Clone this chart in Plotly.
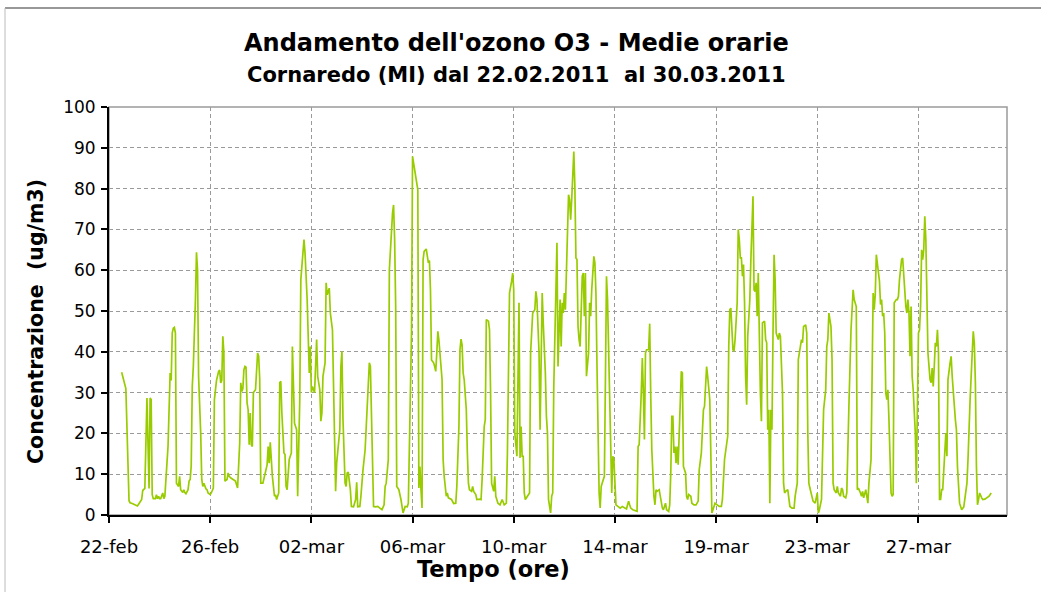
import plotly.graph_objects as go

# Hourly O3 readings (hour index from the start of the series, ug/m3)
ore = [
    12, 14, 15, 16, 19, 20, 22, 24, 27, 29, 31, 32, 34, 36, 38, 39, 40, 41, 42, 44,
    45, 46, 47, 48, 49, 51, 52, 53, 54, 56, 58, 59, 60, 61, 62, 63, 64, 66, 67, 68,
    70, 71, 72, 73, 75, 76, 77, 78, 79, 80, 82, 83, 84, 85, 87, 88, 89, 90, 92, 93,
    94, 96, 97, 99,
    100, 102, 104, 105, 106, 107, 108, 109, 110, 112, 113, 114, 116, 118, 120, 122, 123, 124, 125, 126,
    127, 128, 129, 130, 131, 132, 133, 134, 135, 136, 137, 139, 141, 142, 143, 144, 146, 148, 149, 150,
    151, 152, 153, 154, 155, 157, 158, 159, 161, 162, 163, 164, 166, 167, 168, 169, 170, 171, 173, 174,
    176, 178, 179, 181, 182, 183, 184, 185, 186, 188, 190, 191, 192, 193, 195, 197,
    198, 200, 201, 202, 203, 205, 206, 207, 209, 210, 212, 213, 215, 216, 219, 220, 221, 222, 224, 225,
    226, 227, 229, 230, 232, 234, 235, 236, 238, 239, 240, 241, 243, 245, 246, 247, 248, 249, 250, 251,
    253, 255, 257, 259, 261, 262, 263, 265, 266, 267, 268, 269, 270, 271, 272, 273, 274, 275, 277, 278,
    279, 281, 283, 284,
    285, 287, 288, 289, 291, 292, 293, 294, 295, 296, 297, 298, 299, 301, 302, 303, 304, 305, 306, 308,
    309, 310, 311, 312, 313, 315, 316, 317, 318, 320, 321, 322, 325, 327, 329, 330, 332, 333, 334, 335,
    336, 337, 339, 340, 341, 342, 344, 345, 346, 348, 349, 352, 353, 354, 356, 357, 358, 360, 361, 362,
    363, 365, 366, 367, 369, 371, 373, 375, 377, 378, 379, 380, 382, 383, 384, 385, 387,
    388, 389, 390, 391, 392, 393, 394, 395, 397, 399, 400, 402, 404, 405, 406, 407, 408, 409, 410, 411,
    412, 414, 415, 416, 417, 419, 420, 421, 422, 423, 424, 425, 426, 427, 428, 429, 430, 431, 432, 433,
    435, 436, 437, 438, 439, 440, 441, 442, 443, 444, 445, 446, 447, 449, 450, 451, 452, 453, 454, 455,
    456, 457, 458, 459, 460, 461, 462, 463, 465, 466, 467, 469, 470, 471, 472, 473, 474, 475, 477, 478,
    479, 481,
    483, 485, 487, 489, 491, 492, 493, 494, 495, 497, 499, 501, 502, 503, 505, 506, 507, 508, 509, 510,
    512, 513, 514, 515, 517, 518, 519, 520, 522, 523, 524, 525, 526, 528, 529, 531, 532, 533, 534, 535,
    536, 537, 538, 539, 540, 541, 542, 543, 544, 545, 547, 548, 549, 550, 552, 553, 555, 557, 559, 560,
    562, 563, 564, 565, 567, 568, 569, 570, 571, 572,
    574, 575, 577, 579, 581, 582, 584, 586, 587, 588, 589, 590, 591, 592, 593, 594, 596, 597, 598, 599,
    600, 601, 602, 603, 604, 605, 606, 608, 609, 610, 611, 612, 613, 614, 615, 616, 617, 618, 619, 620,
    622, 623, 624, 625, 626, 627, 628, 629, 630, 631, 632, 633, 634, 635, 636, 637, 639, 640, 641, 642,
    644, 645, 646, 648, 650, 651, 653, 654, 655, 656, 657, 658, 659, 661, 662, 663, 664, 665, 666, 668,
    670, 671, 672, 673, 674, 676, 677, 678, 680, 681, 682, 683, 685, 686, 687, 688, 690, 691, 692, 694,
    695, 696, 697, 699, 700, 701, 702, 704, 705, 706, 707, 709, 710, 711, 713, 714, 715, 716, 718, 719,
    720, 721, 723, 724, 725, 726, 727, 728, 730, 731, 732, 733, 734, 735, 736, 737, 738, 739, 740, 742,
    743, 744, 745, 747, 748, 749, 750, 752, 753, 754, 756, 757, 758, 759, 760, 761, 762, 763, 764, 765,
    766,
    767, 768, 769, 770, 771, 772, 773, 774, 775, 776, 777, 779, 780, 781, 782, 783, 784, 785, 786, 787,
    788, 789, 790, 791, 793, 794, 795, 796, 798, 799, 800, 802, 803, 804, 805, 807, 808, 809, 811, 812,
    814, 815, 816, 817, 819, 820, 821, 822, 823, 824, 825, 826, 828, 829, 831, 833, 835, 837,
]

o3 = [
    35, 33, 32, 31, 3.5, 3, 2.8, 2.6, 2.2, 3, 3.8, 6, 6.5, 28.7, 6.5, 28.7, 28.3, 5, 4, 4,
    5, 4, 4.6, 4, 4, 5.4, 4, 4.6, 8, 16.8, 34.8, 33, 44.6, 45.8, 46, 44.6, 7.8, 7, 9.5, 6.2,
    5.5, 6.2, 5.5, 5.2, 6.2, 8.3, 8.7, 12, 31.5, 36.4, 52.8, 64.4, 60, 34, 20, 8.7, 7, 7.8, 6.4, 6.2,
    5.4, 5, 5.4, 6.6,
    28.3, 33, 35.2, 35.5, 32.4, 33, 43.8, 39.7, 8.3, 8.7, 10.3, 9.5, 9, 8.7, 8.3, 6.6, 12.7, 17.6, 32.4, 30.3,
    31, 35.6, 36.4, 36.2, 27.5, 25.8, 17.2, 25, 17.2, 16.8, 30, 30.7, 39.7, 38.9, 33.2, 7.8, 7.8, 10.3, 10.7, 12.3,
    16.8, 12.7, 17.8, 11.9, 9.5, 4.6, 5, 3.8, 5.4, 32.4, 32.8, 25, 15.2, 14.8, 7, 6.2, 11.9, 13.6, 15.2, 41.3,
    22.5, 20.9, 4.6, 28.3, 57.7, 61.8, 65.8, 67.5, 64.2, 52.8, 34.8, 41.3, 30, 31.5, 30, 43,
    34, 30.7, 23, 25, 34, 37.3, 56.9, 54, 55.6, 49.5, 45.4, 31.5, 5.8, 12.7, 20.9, 36.4, 40.1, 23.4, 7.8, 7,
    10.3, 10.5, 6.2, 2.1, 2, 3.8, 8, 2, 2.1, 4.6, 8.7, 11.1, 16, 25.8, 31.5, 37.3, 36.4, 24.2, 7, 2.1,
    2, 2.1, 1.7, 1.3, 2.5, 7, 7.8, 13.6, 60.1, 65.8, 70, 74, 76, 67.5, 51, 7, 6.6, 6.2, 3.8, 2.5,
    0.5, 2.1, 2, 2.9,
    15.2, 44.6, 87.9, 86.3, 83, 81, 79.7, 6.6, 11.9, 6.2, 1.7, 62.6, 64.6, 65.2, 62.6, 61.8, 62.4, 55.2, 38, 37.3,
    36.4, 35.2, 39.7, 45, 42.9, 37.3, 33.2, 13.6, 9.5, 4.6, 5.4, 4.2, 3.8, 2.8, 2.9, 7, 21.7, 40.5, 43.1, 41.7,
    34.8, 33.2, 25.8, 15.2, 7.8, 6.2, 5.8, 7, 5.8, 5, 3.8, 3.9, 3.8, 8.7, 21.7, 23.4, 47.9, 47.5, 45.4, 30.7,
    7.8, 5.8, 9.5, 4.6, 2.9, 2.5, 3.8, 2.5, 2.9, 15.2, 35.6, 54.4, 57.3, 59.3, 55.2, 20.1, 14.4,
    36.4, 52, 14, 21.7, 14.4, 14.4, 5.4, 3.8, 4.6, 5.4, 39.7, 49.5, 50.3, 54.8, 52.8, 43, 39.7, 20.9, 39.7, 54.4,
    47.1, 34.8, 24.2, 20.1, 3.8, 0.5, 4.6, 5.4, 31.5, 41.3, 51, 66.7, 36.4, 44.6, 52.8, 41.3, 52, 49.5, 54.4, 50.3,
    67.5, 78.5, 77.3, 72.4, 77.3, 85.5, 89.1, 80.6, 63, 62.6, 46.2, 43, 41.3, 58.5, 59.3, 48.7, 59.3, 34, 38.1, 39.7,
    52, 48.7, 55.2, 59.3, 63.4, 61.8, 54.4, 36.4, 5.4, 1.7, 7, 8.7, 9.5, 33.2, 58.5, 52.8, 39.7, 25.8, 5.4, 14.4,
    13.6, 2.5,
    2.1, 1.7, 2.1, 1.7, 1.5, 2.5, 3.4, 2.5, 1.7, 1.3, 1.1, 0.9, 16.8, 17.2, 30, 38.5, 30, 18.5, 39.7, 40.5,
    40.5, 46.9, 29.1, 16, 4.6, 2.5, 6.2, 5.8, 6.2, 4.6, 3.8, 1.7, 1.3, 2.9, 1.3, 0.9, 2.5, 10.3, 24.2, 24.2,
    15.2, 16.8, 12.7, 16.8, 12.3, 20.1, 23.4, 35.2, 34.8, 11.9, 10.3, 4.6, 3.8, 5, 4.6, 2.9, 2.5, 2.5, 3.4, 11.1,
    15.2, 20.9, 25.8, 26.6, 36.4, 34, 30, 28.3, 15.2, 0.5,
    2.1, 2.9, 2.5, 2.1, 2.1, 3.8, 13.6, 18.5, 19.3, 41.3, 50.3, 50.7, 44.6, 40.5, 40.1, 43, 52, 70, 67.5, 63,
    63, 58.5, 61.4, 52, 34, 27, 43.8, 52.8, 62.6, 69.1, 78.1, 55.2, 54.8, 56.9, 48.7, 59.3, 41.3, 29.9, 23, 47.1,
    47.5, 43, 42.2, 20.9, 25.8, 2.9, 25.8, 20.9, 44.6, 63.8, 57.7, 44.6, 43.8, 43, 44.6, 43.8, 29.9, 7.8, 5.4, 5.8,
    6.2, 4.6, 2.1, 1.7, 1.7, 4.6, 7.8, 38.1, 39.7, 40.9, 43, 42.2, 46.2, 46.6, 44.6, 20.1, 7.8, 6.6, 5.4, 3.4,
    2.9, 4.2, 5.4, 0.5, 1.3, 3.8, 16, 25.8, 30.7, 41.3, 43, 49.5, 46.2, 38.1, 7.8, 6.2, 5.4, 7, 5.4, 4.6,
    6.6, 6.2, 4.6, 4.2, 5.4, 19.3, 26.6, 45.4, 49.5, 55.2, 52.8, 51.1, 6.2, 6.6, 5.4, 4.6, 5.8, 4.2, 6.2, 4.6,
    2.9, 7.8, 13.6, 34, 54.4, 50.3, 54, 63.8, 59.3, 57.3, 51.6, 52.8, 48.7, 49.5, 44.6, 29.9, 28.3, 30.7, 23.4, 5.4,
    4.6, 5, 52, 52.8, 52.8, 53.6, 57.7, 62.6, 63, 58.5, 51.1, 49.5, 52.8, 49.5, 38.9, 51.1, 34, 30.7, 25.8, 20.1,
    7.8,
    23.4, 44.6, 45.4, 51.1, 65, 62.6, 65, 73.2, 67.5, 51.1, 39.7, 33.2, 32.4, 36, 31.5, 36.4, 42.2, 41.3, 45.4, 39.7,
    3.8, 3.8, 6.2, 6.2, 16.8, 20.1, 14.4, 33.2, 37.3, 38.9, 34, 25, 23.4, 20.9, 11.9, 2.9, 1.7, 1.3, 2, 3.8,
    7.8, 13.6, 21.7, 28.3, 39.7, 45, 42.1, 32.4, 11.9, 2.5, 3.8, 5.4, 4.2, 3.8, 3.9, 4.2, 4.6, 5.4,
]

# Category axis: one label every 96 hourly readings
tick_pos = [0, 96, 192, 288, 384, 480, 576, 672, 768]
tick_lab = ["22-feb", "26-feb", "02-mar", "06-mar", "10-mar",
            "14-mar", "19-mar", "23-mar", "27-mar"]

FONT = "DejaVu Sans"
GRID = "#9a9a9a"

fig = go.Figure(
    go.Scatter(x=ore, y=o3, mode="lines",
               line=dict(color="#99CC00", width=1.7), hoverinfo="skip")
)

axis_common = dict(
    showgrid=True, gridcolor=GRID, gridwidth=1, griddash="4px,3px",
    showline=True, linecolor="black", linewidth=2,
    ticks="outside", ticklen=6, tickcolor="black", tickwidth=1.5,
    zeroline=False,
)

fig.update_layout(
    width=1041, height=592,
    margin=dict(l=109, r=34, t=107, b=77),
    paper_bgcolor="white", plot_bgcolor="white",
    showlegend=False,
    xaxis=dict(range=[0, 852], tickmode="array", tickvals=tick_pos,
               ticktext=tick_lab, ticklabelstandoff=8,
               tickfont=dict(family=FONT, size=18, color="black"), **axis_common),
    yaxis=dict(range=[0, 100], dtick=10, ticklabelstandoff=2,
               tickfont=dict(family=FONT, size=17, color="black"), **axis_common),
    shapes=[
        # plot area frame (top / right edges in grey)
        dict(type="rect", xref="paper", yref="paper", x0=0, x1=1, y0=0, y1=1,
             line=dict(color=GRID, width=1.5), layer="below"),
        # outer chart frame
        dict(type="line", xref="paper", yref="paper",
             x0=-0.1158, x1=1.04, y0=1.2426, y1=1.2426,
             line=dict(color="#333333", width=1.2)),
        dict(type="line", xref="paper", yref="paper",
             x0=-0.1158, x1=-0.1158, y0=1.2426, y1=-0.19,
             line=dict(color="#bbbbbb", width=1)),
    ],
    annotations=[
        dict(text="<b>Andamento dell'ozono O3 - Medie orarie</b>",
             xref="paper", yref="paper", x=0.4543, y=1.157,
             xanchor="center", yanchor="middle", showarrow=False,
             font=dict(family=FONT, size=24, color="black")),
        dict(text="<b>Cornaredo (MI) dal 22.02.2011  al 30.03.2011</b>",
             xref="paper", yref="paper", x=0.4543, y=1.078,
             xanchor="center", yanchor="middle", showarrow=False,
             font=dict(family=FONT, size=21, color="black")),
        dict(text="<b>Tempo (ore)</b>",
             xref="paper", yref="paper", x=0.4287, y=-0.132,
             xanchor="center", yanchor="middle", showarrow=False,
             font=dict(family=FONT, size=22.5, color="black")),
        dict(text="<b>Concentrazione  (ug/m3)</b>",
             xref="paper", yref="paper", x=-0.0813, y=0.4755, textangle=-90,
             xanchor="center", yanchor="middle", showarrow=False,
             font=dict(family=FONT, size=20.5, color="black")),
    ],
)

fig.write_html("out.html")
